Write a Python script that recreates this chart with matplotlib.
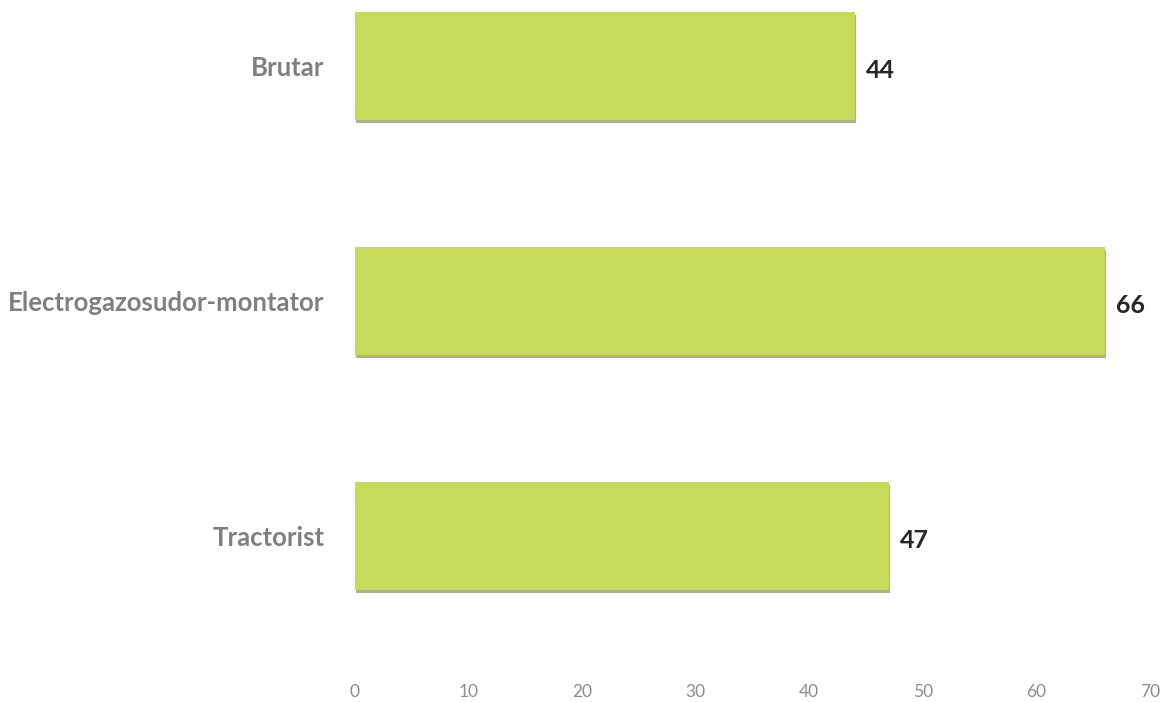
import matplotlib
matplotlib.use("Agg")
import matplotlib.pyplot as plt
import matplotlib.patheffects as pe

# данные
categories = ['Tractorist', 'Electrogazosudor-montator', 'Brutar']
values = [47, 66, 44]
x_ticks = [0, 10, 20, 30, 40, 50, 60, 70]

plt.rcParams['font.family'] = ['Lato', 'DejaVu Sans']

fig = plt.figure(figsize=(11.7, 7.02), dpi=100)
ax = fig.add_axes([0.3034, 0.0456, 0.6795, 0.954])

bars = ax.barh(range(len(categories)), values, height=0.46,
               color='#c8da5a', edgecolor='none')
for b in bars:
    b.set_path_effects([pe.SimplePatchShadow(offset=(1, -2), shadow_rgbFace='#6b7040', alpha=0.55),
                        pe.Normal()])

# подписи значений
for i, v in enumerate(values):
    ax.text(v + 1.0, i - 0.02, str(v), va='center', ha='left',
            fontsize=18, fontweight='bold', color='#262626')

ax.set_xlim(0, 70)
ax.set_ylim(-0.57, 2.281)
ax.set_xticks(x_ticks)
ax.set_xticklabels([str(t) for t in x_ticks], fontsize=12.5, color='#8c8c8c')
ax.set_yticks(range(len(categories)))
ax.set_yticklabels(categories, fontsize=18.5, fontweight='bold', color='#7f7f7f')
ax.tick_params(axis='x', length=0, pad=10)
ax.tick_params(axis='y', length=0, pad=22)

for s in ax.spines.values():
    s.set_visible(False)

fig.savefig('out.png', dpi=100)
